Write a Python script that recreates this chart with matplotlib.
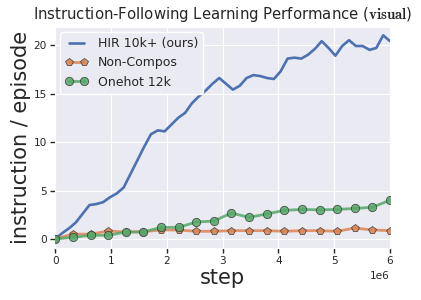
import numpy as np
import matplotlib
matplotlib.use("Agg")
import matplotlib.pyplot as plt
import seaborn as sns

# ---- data ----
hir_values = [0.0, 0.6, 1.1, 1.7, 2.6, 3.5, 3.6, 3.8, 4.3, 4.7,
              5.3, 6.7, 8.1, 9.5, 10.8, 11.2, 11.1, 11.8, 12.5, 13.0,
              14.0, 14.7, 15.3, 16.0, 16.6, 16.0, 15.4, 15.8, 16.6, 16.9,
              16.8, 16.6, 16.5, 17.3, 18.6, 18.7, 18.6, 19.0, 19.6, 20.4,
              19.7, 18.9, 19.9, 20.5, 19.9, 19.9, 19.5, 19.7, 21.0, 20.4]
hir_steps = np.linspace(0, 6e6, len(hir_values))

noncompos_values = [0.0, 0.5, 0.5, 0.82, 0.72, 0.76, 0.93, 0.93, 0.79, 0.79,
                    0.86, 0.86, 0.86, 0.79, 0.86, 0.86, 0.79, 1.13, 0.93, 0.86]
onehot_values = [0.0, 0.17, 0.38, 0.38, 0.72, 0.72, 1.2, 1.2, 1.75, 1.85,
                 2.68, 2.23, 2.58, 2.95, 3.05, 3.0, 3.05, 3.15, 3.27, 4.0]
marker_steps = np.linspace(0, 6e6, len(onehot_values))

labels = ["HIR 10k+ (ours)", "Non-Compos", "Onehot 12k"]
title = r"Instruction-Following Learning Performance ($\bf{visual}$)"

# ---- style ----
sns.set_style("darkgrid")
plt.rcParams["font.family"] = ["DejaVu Sans"]
plt.rcParams["mathtext.fontset"] = "cm"
plt.rcParams["xtick.bottom"] = True
plt.rcParams["ytick.left"] = True
plt.rcParams["xtick.major.size"] = 3.5
plt.rcParams["ytick.major.size"] = 3.5
plt.rcParams["xtick.major.width"] = 1.0
plt.rcParams["ytick.major.width"] = 1.0
plt.rcParams["xtick.color"] = "#262626"
plt.rcParams["ytick.color"] = "#262626"
plt.rcParams["legend.numpoints"] = 2

blue, orange, green = "#4C72B0", "#DD8452", "#55A868"

fig = plt.figure(figsize=(4.21, 3.0), dpi=100)
ax = fig.add_axes([0.1314, 0.1733, 0.795, 0.7367])

ax.plot(hir_steps, hir_values, color=blue, lw=1.9, label=labels[0], zorder=3)
ax.plot(marker_steps, noncompos_values, color=orange, lw=2.0, alpha=0.85,
        marker="p", markersize=5.5, markerfacecolor=orange,
        markeredgecolor="#3a3a3a", markeredgewidth=0.6, label=labels[1], zorder=4)
ax.plot(marker_steps, onehot_values, color=green, lw=2.0, alpha=0.85,
        marker="o", markersize=6, markerfacecolor=green,
        markeredgecolor="#3a3a3a", markeredgewidth=0.6, label=labels[2], zorder=5)

ax.set_xlim(0, 6e6)
ax.set_ylim(-0.93, 21.86)
ax.set_yticks([0, 5, 10, 15, 20])
ax.tick_params(axis="both", labelsize=7.6, pad=2.5, bottom=True, left=True)
ax.xaxis.get_offset_text().set_fontsize(7.6)

ax.set_xlabel("step", fontsize=15, labelpad=1)
ax.set_ylabel("instruction / episode", fontsize=15, labelpad=2)
ax.set_title(title, fontsize=10.7, pad=6)

leg = ax.legend(loc="upper left", fontsize=9, frameon=True, facecolor="#EAEAF2",
                edgecolor="white", framealpha=1.0, borderaxespad=0.4,
                numpoints=2, handlelength=1.8)

fig.savefig("out.png", dpi=100)
